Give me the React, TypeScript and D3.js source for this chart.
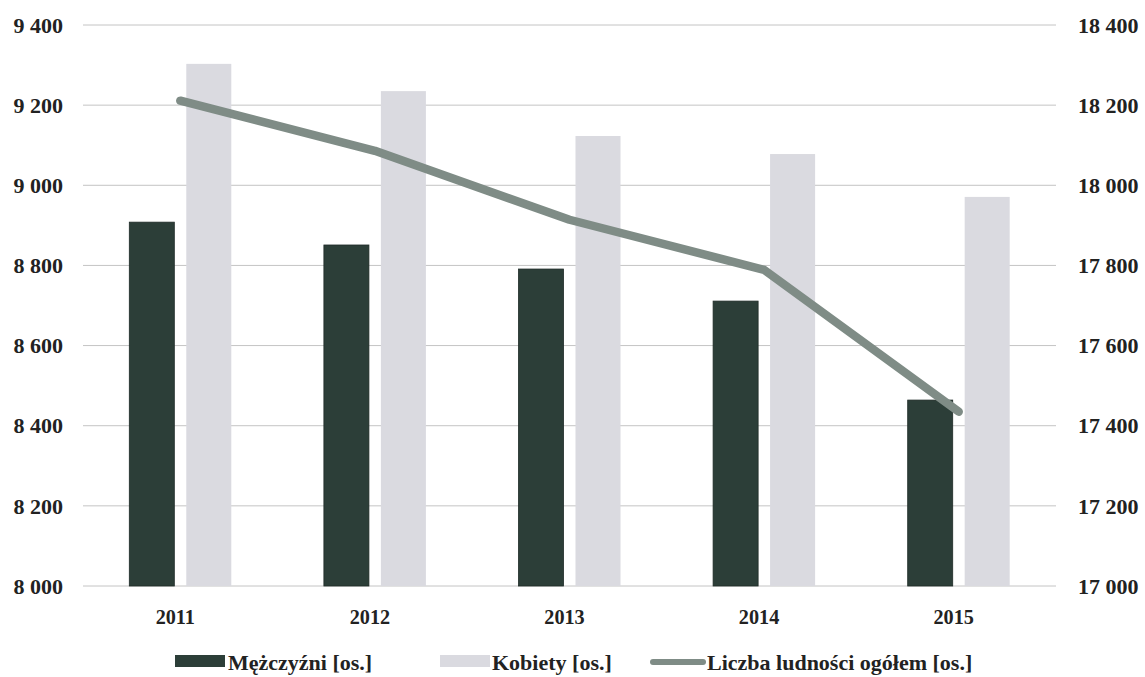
import React from "react";
import * as d3 from "d3";

const years = ["2011", "2012", "2013", "2014", "2015"];
const men = [8908, 8851, 8791, 8711, 8464];
const women = [9303, 9235, 9123, 9078, 8971];
const total = [18211, 18086, 17914, 17789, 17435];
const leftTicks = [8000, 8200, 8400, 8600, 8800, 9000, 9200, 9400];
const rightTicks = [17000, 17200, 17400, 17600, 17800, 18000, 18200, 18400];
const seriesNames = ["Mężczyźni [os.]", "Kobiety [os.]", "Liczba ludności ogółem [os.]"];

const W = 1145;
const H = 677;
const FONT = "'Liberation Serif', 'Times New Roman', 'DejaVu Serif', serif";
const C_MEN = "#2c3e38";
const C_WOMEN = "#dadae0";
const C_LINE = "#7f8c86";
const C_TEXT = "#222222";

const fmt = (v: number) => {
  const s = String(v);
  return s.length > 3 ? s.slice(0, s.length - 3) + " " + s.slice(s.length - 3) : s;
};

export default function App() {
  const x0 = d3.scaleBand<string>().domain(years).range([83, 1056]);
  const bw = x0.bandwidth();
  const x1 = d3.scaleBand<string>().domain(["m", "k"]).range([0, 102]).paddingInner(0.21);
  const yL = d3.scaleLinear().domain([8000, 9400]).range([586, 25]);
  const yR = d3.scaleLinear().domain([17000, 18400]).range([586, 25]);
  const cx = (y: string) => (x0(y) as number) + bw / 2;
  const line = d3
    .line<number>()
    .x((_, i) => cx(years[i]))
    .y((d) => yR(d));

  return (
    <svg width={W} height={H} style={{ position: "absolute", left: 0, top: 0, background: "#fff" }}>
      <rect width={W} height={H} fill="#fff" />
      {leftTicks.map((t) => (
        <line key={"g" + t} x1={83} x2={1056} y1={yL(t)} y2={yL(t)} stroke="#c4c4c4" strokeWidth={1} />
      ))}
      {leftTicks.map((t) => (
        <text key={"l" + t} x={63} y={yL(t)} dy="0.35em" textAnchor="end" fontFamily={FONT} fontWeight="bold" fontSize={22} fill={C_TEXT}>
          {fmt(t)}
        </text>
      ))}
      {rightTicks.map((t) => (
        <text key={"r" + t} x={1078} y={yR(t)} dy="0.35em" textAnchor="start" fontFamily={FONT} fontWeight="bold" fontSize={22} fill={C_TEXT}>
          {fmt(t)}
        </text>
      ))}
      {years.map((yr, i) => {
        const base = cx(yr) - 51;
        return (
          <g key={yr}>
            <rect x={base + (x1("m") as number)} y={yL(men[i])} width={x1.bandwidth()} height={yL(8000) - yL(men[i])} fill={C_MEN} stroke="#1f2b27" strokeWidth={0.8} />
            <rect x={base + (x1("k") as number)} y={yL(women[i])} width={x1.bandwidth()} height={yL(8000) - yL(women[i])} fill={C_WOMEN} />
            <g transform={`translate(${cx(yr) - 5},616) scale(0.92,1)`}>
              <text x={0} y={0} dy="0.35em" textAnchor="middle" fontFamily={FONT} fontWeight="bold" fontSize={22} fill={C_TEXT}>
                {yr}
              </text>
            </g>
          </g>
        );
      })}
      <path d={line(total) as string} fill="none" stroke={C_LINE} strokeWidth={8.5} strokeLinecap="round" strokeLinejoin="round" />
      <g fontFamily={FONT} fontWeight="bold" fontSize={22} fill={C_TEXT}>
        <rect x={175} y={655} width={50} height={12} fill={C_MEN} />
        <text x={228} y={662} dy="0.35em">{seriesNames[0]}</text>
        <rect x={440} y={655} width={50} height={12} fill={C_WOMEN} />
        <text x={492} y={662} dy="0.35em">{seriesNames[1]}</text>
        <line x1={653} x2={703} y1={662} y2={662} stroke={C_LINE} strokeWidth={6} strokeLinecap="round" />
        <text x={707} y={662} dy="0.35em">{seriesNames[2]}</text>
      </g>
    </svg>
  );
}
